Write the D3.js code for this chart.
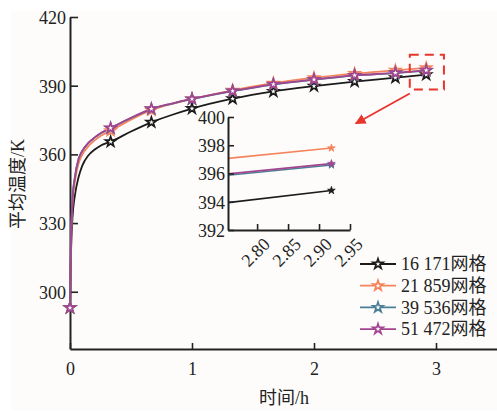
<!DOCTYPE html>
<html>
<head>
<meta charset="utf-8">
<script src="https://cdn.jsdelivr.net/npm/d3@7"></script>
<style>
body{margin:0;background:#fff;}
</style>
</head>
<body>
<div id="chart"></div>
<script>
// time points (h)
var times = [0, 0.005, 0.01, 0.02, 0.04, 0.07, 0.1, 0.15, 0.2, 0.25, 0.333, 0.5, 0.667, 0.833, 1.0, 1.333, 1.667, 2.0, 2.333, 2.667, 2.92];
var markTimes = [0, 0.333, 0.667, 1.0, 1.333, 1.667, 2.0, 2.333, 2.667, 2.92];

var temp16171 = [293, 310, 320, 332, 342, 350, 355, 359.5, 362, 363.8, 365.5, 370, 374, 377.2, 380, 384.3, 387.5, 389.8, 391.8, 393.5, 394.8];
var temp21859 = [293, 313, 325, 338, 348, 356, 359.8, 363.5, 366, 368, 370.3, 375.2, 379.3, 382, 384.2, 388, 391.1, 393.5, 395.3, 396.7, 397.8];
var temp39536 = [293, 315, 327, 340, 350, 358, 361.4, 364.9, 367.2, 369.1, 371.4, 375.9, 379.8, 382.1, 384.1, 387.6, 390.5, 392.6, 394.4, 395.5, 396.6];
var temp51472 = [293, 315, 327, 340, 350, 358, 361.5, 365, 367.3, 369.2, 371.5, 376, 379.9, 382.2, 384.2, 387.7, 390.6, 392.7, 394.5, 395.6, 396.7];

var seriesNames = ['16 171网格', '21 859网格', '39 536网格', '51 472网格'];
var seriesColors = ['#1b1b1b', '#f5845c', '#4b7f98', '#a2448f'];
var seriesTemps = [temp16171, temp21859, temp39536, temp51472];

var xTicks = [0, 1, 2, 3];
var yTicks = [300, 330, 360, 390, 420];
var insetXTicks = [2.80, 2.85, 2.90, 2.95];
var insetYTicks = [392, 394, 396, 398, 400];

// zoom window shown by the dashed box (data units)
var zoomBox = {t0: 2.785, t1: 3.065, y0: 388.3, y1: 403.5};

var width = 497, height = 412;
var FONT = '"Liberation Serif", "Times New Roman", "Noto Sans CJK SC", serif';

var series = seriesTemps.map(function(vals, k){
    return {
        name: seriesNames[k],
        color: seriesColors[k],
        points: times.map(function(t, i){ return {t: t, v: vals[i]}; })
    };
});

var svg = d3.select('#chart').append('svg').attr('width', width).attr('height', height);

svg.append('rect').attr('x', 11).attr('y', 11).attr('width', width - 11).attr('height', height - 13)
    .attr('fill', '#fdfcfa');

var x = d3.scaleLinear().domain([0, 3.5]).range([70, 497]);
var y = d3.scaleLinear().domain([275, 420]).range([349, 17]);

var star = d3.symbol().type(d3.symbolStar);

function styleAxis(g){
    g.select('.domain').attr('stroke', '#222').attr('stroke-width', 2);
    g.selectAll('.tick line').attr('stroke', '#222').attr('stroke-width', 1.6);
    g.selectAll('.tick text').style('font-size', '18px').style('font-family', FONT).attr('fill', '#222');
}

// axes
var gx = svg.append('g').attr('transform', 'translate(0,' + y(275) + ')')
    .call(d3.axisBottom(x).tickValues(xTicks).tickFormat(d3.format('d')).tickSizeInner(-6).tickSizeOuter(0).tickPadding(12));
var gy = svg.append('g').attr('transform', 'translate(' + x(0) + ',0)')
    .call(d3.axisLeft(y).tickValues(yTicks).tickSizeInner(-8).tickSizeOuter(0).tickPadding(4));
styleAxis(gx);
styleAxis(gy);
gy.selectAll('.tick text').attr('x', -4).attr('dy', '0.35em');
gx.selectAll('.tick text').attr('dy', '0.75em');

svg.append('text').attr('x', 284).attr('y', 404).attr('text-anchor', 'middle')
    .style('font-size', '18px').style('font-family', FONT).attr('fill', '#222').text('时间/h');
svg.append('text').attr('transform', 'translate(24,184) rotate(-90)').attr('text-anchor', 'middle')
    .style('font-size', '18px').style('font-family', FONT).attr('fill', '#222').text('平均温度/K');

// main curves
var line = d3.line().x(function(d){ return x(d.t); }).y(function(d){ return y(d.v); }).curve(d3.curveMonotoneX);

var mainG = svg.append('g');
series.forEach(function(s){
    mainG.append('path').datum(s.points).attr('d', line)
        .attr('fill', 'none').attr('stroke', s.color).attr('stroke-width', 1.8);
});
series.forEach(function(s){
    mainG.selectAll(null)
        .data(s.points.filter(function(p){ return markTimes.indexOf(p.t) >= 0; }))
        .enter().append('path')
        .attr('d', star.size(32))
        .attr('transform', function(d){ return 'translate(' + x(d.t) + ',' + y(d.v) + ')'; })
        .attr('fill', '#fff').attr('stroke', s.color).attr('stroke-width', 1.7);
});

// dashed zoom box and arrow
svg.append('rect')
    .attr('x', x(zoomBox.t0)).attr('y', y(zoomBox.y1))
    .attr('width', x(zoomBox.t1) - x(zoomBox.t0)).attr('height', y(zoomBox.y0) - y(zoomBox.y1))
    .attr('fill', 'none').attr('stroke', '#e8352c').attr('stroke-width', 2).attr('stroke-dasharray', '9,6');

svg.append('defs').append('marker').attr('id', 'arr').attr('viewBox', '0 0 10 10')
    .attr('refX', 9).attr('refY', 5).attr('markerWidth', 6).attr('markerHeight', 6).attr('orient', 'auto')
    .append('path').attr('d', 'M0,0L10,5L0,10z').attr('fill', '#e8352c');
svg.append('line')
    .attr('x1', x(zoomBox.t0)).attr('y1', y(zoomBox.y0) + 4)
    .attr('x2', x(zoomBox.t0) - 54).attr('y2', y(zoomBox.y0) + 34)
    .attr('stroke', '#e8352c').attr('stroke-width', 1.8).attr('marker-end', 'url(#arr)');

// inset
var xi = d3.scaleLinear().domain([2.753, 2.95]).range([228, 350]);
var yi = d3.scaleLinear().domain([392, 400]).range([230, 117]);

svg.append('defs').append('clipPath').attr('id', 'insetClip')
    .append('rect').attr('x', xi.range()[0]).attr('y', yi.range()[1])
    .attr('width', xi.range()[1] - xi.range()[0]).attr('height', yi.range()[0] - yi.range()[1]);

var lineI = d3.line().x(function(d){ return xi(d.t); }).y(function(d){ return yi(d.v); });
var insetG = svg.append('g');
var insetLines = insetG.append('g').attr('clip-path', 'url(#insetClip)');
series.forEach(function(s){
    insetLines.append('path').datum(s.points).attr('d', lineI)
        .attr('fill', 'none').attr('stroke', s.color).attr('stroke-width', 1.6);
    var last = s.points[s.points.length - 1];
    insetG.append('path').attr('d', star.size(18))
        .attr('transform', 'translate(' + xi(last.t) + ',' + yi(last.v) + ')')
        .attr('fill', s.color).attr('stroke', s.color).attr('stroke-width', 0.8);
});

var gxi = insetG.append('g').attr('transform', 'translate(0,' + yi(392) + ')')
    .call(d3.axisBottom(xi).tickValues(insetXTicks).tickFormat(d3.format('.2f')).tickSizeInner(-6).tickSizeOuter(0));
var gyi = insetG.append('g').attr('transform', 'translate(' + xi(2.753) + ',0)')
    .call(d3.axisLeft(yi).tickValues(insetYTicks).tickSizeInner(-6).tickSizeOuter(0).tickPadding(4));
styleAxis(gxi);
styleAxis(gyi);
gyi.selectAll('.tick text').attr('x', -3).attr('dy', '0.35em');
gxi.selectAll('.tick text')
    .attr('text-anchor', 'end').attr('dy', '0.35em')
    .attr('transform', 'translate(9,11) rotate(-45)').attr('y', 0).attr('x', 0);

// legend
var legend = svg.append('g').attr('transform', 'translate(360,264)');
series.forEach(function(s, i){
    var row = legend.append('g').attr('transform', 'translate(0,' + (i * 21.7) + ')');
    row.append('line').attr('x1', 0).attr('x2', 36).attr('y1', 0).attr('y2', 0)
        .attr('stroke', s.color).attr('stroke-width', 1.8);
    row.append('path').attr('d', star.size(32)).attr('transform', 'translate(18,0)')
        .attr('fill', '#fff').attr('stroke', s.color).attr('stroke-width', 1.7);
    row.append('text').attr('x', 41).attr('y', 0).attr('dy', '0.35em')
        .style('font-size', '18px').style('font-family', FONT).attr('fill', '#222').text(s.name);
});
</script>
</body>
</html>
